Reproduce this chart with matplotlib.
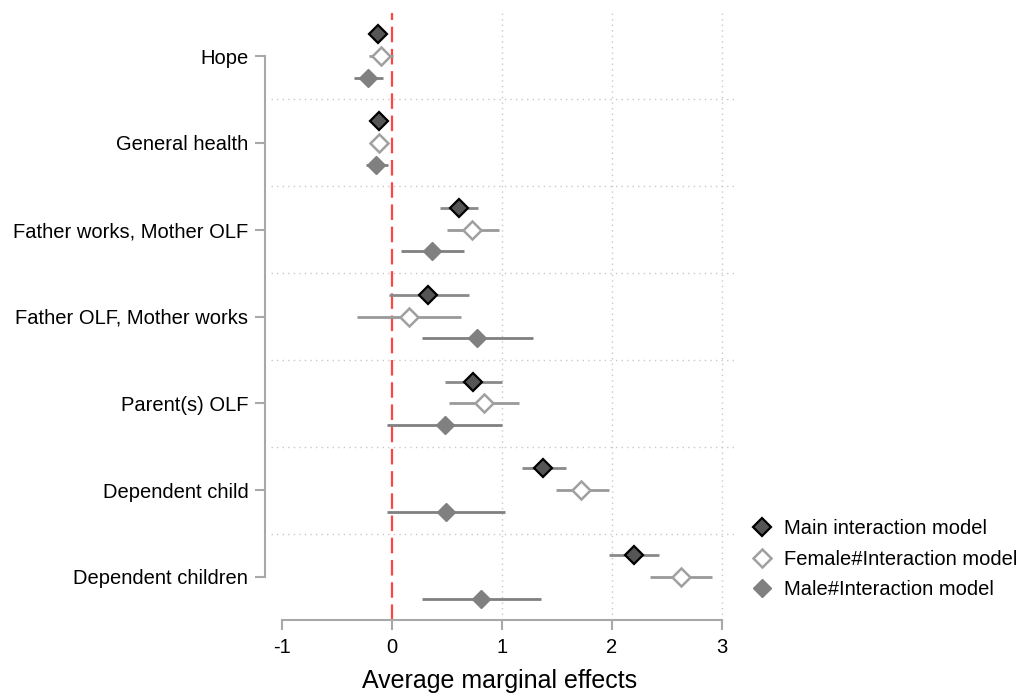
import matplotlib
matplotlib.use("Agg")
import matplotlib.pyplot as plt
import numpy as np
from matplotlib.lines import Line2D

plt.rcParams['font.family'] = ['Liberation Sans', 'DejaVu Sans']

categories = ["Hope", "General health", "Father works, Mother OLF",
              "Father OLF, Mother works", "Parent(s) OLF",
              "Dependent child", "Dependent children"]

main_est = [-0.13, -0.12, 0.61, 0.33, 0.74, 1.375, 2.20]
main_lo  = [-0.17, -0.16, 0.44, -0.03, 0.48, 1.18, 1.975]
main_hi  = [-0.09, -0.08, 0.78, 0.70, 1.00, 1.58, 2.43]

fem_est = [-0.10, -0.115, 0.73, 0.155, 0.84, 1.72, 2.63]
fem_lo  = [-0.21, -0.15, 0.50, -0.32, 0.52, 1.49, 2.345]
fem_hi  = [0.01, -0.08, 0.97, 0.63, 1.15, 1.97, 2.905]

male_est = [-0.22, -0.145, 0.36, 0.77, 0.48, 0.49, 0.81]
male_lo  = [-0.35, -0.24, 0.085, 0.27, -0.05, -0.05, 0.27]
male_hi  = [-0.08, -0.04, 0.65, 1.28, 1.00, 1.03, 1.35]

series_names = ["Main interaction model", "Female#Interaction model", "Male#Interaction model"]
xticks = [-1, 0, 1, 2, 3]

fig = plt.figure(figsize=(10.25, 6.97), dpi=100)
ax = fig.add_axes([265/1025, 1-620.4/697, (735-265)/1025, (620.4-12.6)/697])

n = len(categories)
ypos = np.arange(n)
offsets = [-0.25, 0.0, 0.25]

styles = [
    dict(mfc="#555555", mec="black", mew=1.6, ci="#8a8a8a"),
    dict(mfc="white", mec="#a0a0a0", mew=1.8, ci="#999999"),
    dict(mfc="#808080", mec="#808080", mew=1.0, ci="#808080"),
]
data = [(main_est, main_lo, main_hi), (fem_est, fem_lo, fem_hi), (male_est, male_lo, male_hi)]

# grid lines and separators
for k in range(n - 1):
    ax.axhline(k + 0.5, xmin=0.012, xmax=1.0, color="#c8c8c8", lw=1.0, ls=(0, (1, 3)), zorder=1)
ax.set_xticks(xticks)
ax.xaxis.grid(True, color="#c8c8c8", lw=1.0, ls=(0, (1, 3)), zorder=1)
ax.set_axisbelow(True)

ax.axvline(0, color="#ff4444", lw=1.6, ls=(0, (7, 3)), zorder=2)

for (est, lo, hi), st, off in zip(data, styles, offsets):
    y = ypos + off
    ax.hlines(y, lo, hi, color=st["ci"], lw=2.0, zorder=3)
    ax.plot(est, y, ls="none", marker="D", ms=9, mfc=st["mfc"], mec=st["mec"], mew=st["mew"], zorder=4)

ax.set_xlim((265-392)/110, (735-392)/110)
ax.set_ylim(6.5, -0.5)

ax.set_yticks(ypos)
ax.set_yticklabels(categories, fontsize=14.5)
ax.set_xticklabels([str(t) for t in xticks], fontsize=14.5)
gridlines = ax.xaxis.get_gridlines()
gridlines[0].set_visible(False)
gridlines[1].set_visible(False)

for s in ["top", "right"]:
    ax.spines[s].set_visible(False)
ax.spines["left"].set_bounds(0, n - 1)
ax.spines["bottom"].set_bounds(-1, 3)
for s in ["left", "bottom"]:
    ax.spines[s].set_color("#a8a8a8")
    ax.spines[s].set_linewidth(1.5)
ax.tick_params(axis="y", length=7, width=1.5, color="#a8a8a8", pad=5)
ax.tick_params(axis="x", length=7, width=1.5, color="#a8a8a8", pad=6)

ax.set_xlabel("Average marginal effects", fontsize=18, labelpad=8)

handles = [Line2D([], [], ls="none", marker="D", ms=9, mfc=st["mfc"], mec=st["mec"], mew=st["mew"])
           for st in styles]
fig.legend(handles, series_names, loc="upper left", bbox_to_anchor=(742/1025, 1-511/697),
           frameon=False, fontsize=14.5, handletextpad=0.5, labelspacing=0.58, borderaxespad=0, handlelength=1.2)

fig.savefig("out.png", dpi=100)
